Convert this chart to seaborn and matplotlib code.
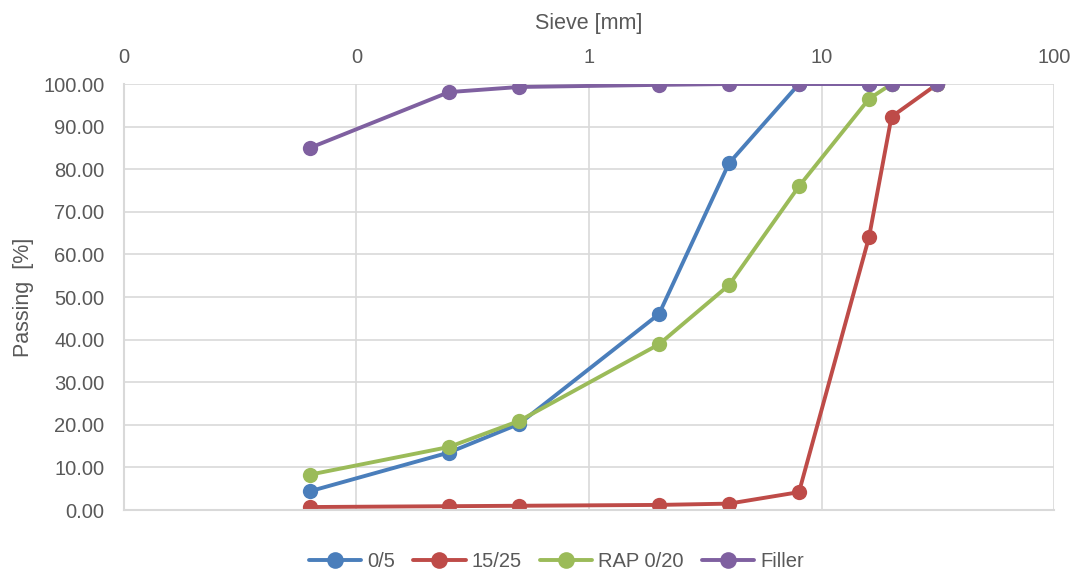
import matplotlib
matplotlib.use("Agg")
import matplotlib.pyplot as plt
from matplotlib import font_manager
from matplotlib.ticker import FixedLocator, FixedFormatter, NullLocator
import seaborn as sns
import pandas as pd

# Sieve sizes [mm] and passing percentages for each material
sieves = [0.063, 0.25, 0.5, 2, 4, 8, 16, 20, 31.5]
pass_0_5 = [4.4, 13.5, 20.2, 46.0, 81.4, 100.0, 100.0, 100.0, 100.0]
pass_15_25 = [0.7, 0.9, 1.0, 1.2, 1.5, 4.2, 64.0, 92.3, 100.0]
pass_rap = [8.3, 14.8, 20.9, 38.9, 52.8, 76.0, 96.5, 100.0, 100.0]
pass_filler = [85.0, 98.1, 99.3, 99.8, 100.0, 100.0, 100.0, 100.0, 100.0]
series_names = ["0/5", "15/25", "RAP 0/20", "Filler"]

x_ticks = [0.01, 0.1, 1, 10, 100]
x_tick_labels = ["0", "0", "1", "10", "100"]
y_ticks = [0, 10, 20, 30, 40, 50, 60, 70, 80, 90, 100]
y_tick_labels = [f"{v:.2f}" for v in y_ticks]

colors = ["#4A7EBB", "#BE4B48", "#9BBB59", "#7F60A0"]

frames = []
for name, vals in zip(series_names, [pass_0_5, pass_15_25, pass_rap, pass_filler]):
    frames.append(pd.DataFrame({"sieve": sieves, "passing": vals, "material": name}))
df = pd.concat(frames, ignore_index=True)

sns.set_theme(style="white")
installed = {f.name for f in font_manager.fontManager.ttflist}
family = "Liberation Sans Narrow" if "Liberation Sans Narrow" in installed else "Liberation Sans"
plt.rcParams["font.family"] = [family, "DejaVu Sans"]

text_color = "#595959"
grid_color = "#D9D9D9"

fig = plt.figure(figsize=(10.75, 5.75), dpi=100)
ax = fig.add_axes([0.1153, 0.1130, 0.9805 - 0.1153, 0.8539 - 0.1130])

sns.lineplot(
    data=df, x="sieve", y="passing", hue="material", hue_order=series_names,
    palette=colors, marker="o", markersize=11, markeredgewidth=0,
    linewidth=2.8, sort=False, ax=ax, legend=True,
)

ax.set_xscale("log")
ax.set_xlim(0.01, 100)
ax.set_ylim(0, 100)

ax.xaxis.set_major_locator(FixedLocator(x_ticks))
ax.xaxis.set_major_formatter(FixedFormatter(x_tick_labels))
ax.xaxis.set_minor_locator(NullLocator())
ax.set_yticks(y_ticks)
ax.set_yticklabels(y_tick_labels)

ax.xaxis.tick_top()
ax.xaxis.set_label_position("top")
ax.tick_params(axis="both", length=0, labelsize=14.5, labelcolor=text_color)
ax.tick_params(axis="x", pad=12)
ax.tick_params(axis="y", pad=14)

ax.grid(True, color=grid_color, linewidth=1.2)
ax.set_axisbelow(True)
for side in ["top", "right"]:
    ax.spines[side].set_visible(False)
for side in ["left", "bottom"]:
    ax.spines[side].set_color(grid_color)
    ax.spines[side].set_linewidth(1.5)

ax.set_xlabel("Sieve [mm]", fontsize=15.5, color=text_color, labelpad=14)
ax.set_ylabel("Passing  [%]", fontsize=15.5, color=text_color, labelpad=7)

handles, labels = ax.get_legend_handles_labels()
for h in handles:
    h.set_markersize(12)
ax.legend(
    handles, labels, loc="lower center", bbox_to_anchor=(0.465, -0.185),
    ncol=4, frameon=False, fontsize=14.5, labelcolor=text_color,
    handlelength=2.6, handletextpad=0.3, columnspacing=0.9,
)

fig.savefig("out.png", dpi=100)
